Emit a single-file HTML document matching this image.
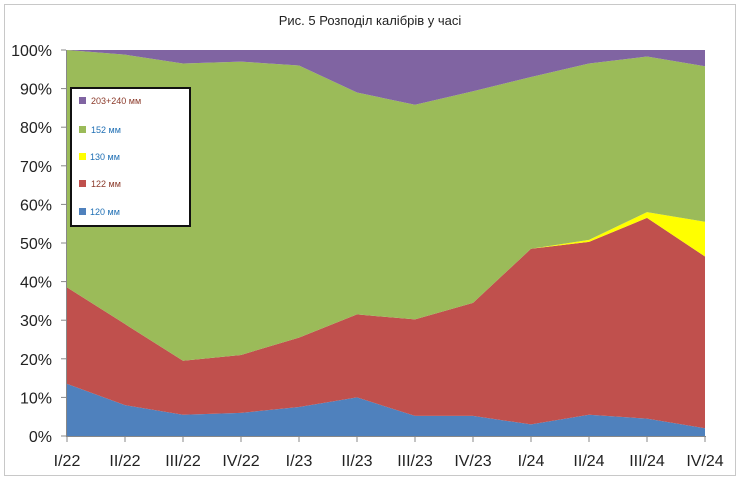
<!DOCTYPE html>
<html><head><meta charset="utf-8"><style>
body{margin:0;background:#fff;width:740px;height:480px;overflow:hidden}
svg{font-family:"Liberation Sans",sans-serif}
</style></head><body>
<svg id="s" width="740" height="480" xmlns="http://www.w3.org/2000/svg">
<rect x="4.5" y="4.5" width="731" height="471" fill="#fff" stroke="#c8c8c8"/>
<text x="370" y="25" font-size="13" text-anchor="middle" fill="#222">Рис. 5 Розподіл калібрів у часі</text>
<g id="areas"></g>
<g id="axes" stroke="#888" stroke-width="1"></g>
<g id="lbl" font-size="16" fill="#222"></g>
<g font-size="9">
<rect x="71" y="88" width="119" height="138" fill="#fff" stroke="#111" stroke-width="2"/>
<rect x="79" y="97" width="7" height="7" fill="#8064a2"/><text x="91" y="104" fill="#8b3a2a">203+240 мм</text>
<rect x="79" y="126" width="7" height="7" fill="#9bbb59"/><text x="91" y="133" fill="#1f6fb4">152 мм</text>
<rect x="79" y="153" width="7" height="7" fill="#ffff00"/><text x="90" y="160" fill="#1f6fb4">130 мм</text>
<rect x="79" y="180" width="7" height="7" fill="#c0504d"/><text x="91" y="187" fill="#8b3a2a">122 мм</text>
<rect x="79" y="208" width="7" height="7" fill="#4f81bd"/><text x="90" y="215" fill="#1f6fb4">120 мм</text>
</g>
</svg>
<script>
const X=i=>67+i*58,Y=p=>436-p*3.86;
const blue=[13.5,8,5.5,6,7.5,10,5.2,5.2,3,5.5,4.5,2];
const red=[38.5,29,19.5,21,25.5,31.5,30.2,34.5,48.5,50.3,56.5,46.5];
const yel=[38.5,29,19.5,21,25.5,31.5,30.2,34.5,48.5,50.8,58,55.5];
const grn=[100,98.8,96.5,97,96,89,85.8,89.3,93,96.5,98.3,95.8];
const pur=Array(12).fill(100);
const zero=Array(12).fill(0);
const layers=[[zero,blue,'#4f81bd'],[blue,red,'#c0504d'],[red,yel,'#ffff00'],[yel,grn,'#9bbb59'],[grn,pur,'#8064a2']];
let h='';
for(const [lo,hi,c] of layers){
 let pts=hi.map((v,i)=>X(i)+','+Y(v));
 for(let i=11;i>=0;i--)pts.push(X(i)+','+Y(lo[i]));
 h+=`<polygon points="${pts.join(' ')}" fill="${c}"/>`;
}
document.getElementById('areas').innerHTML=h;
let a=`<line x1="66.5" y1="50" x2="66.5" y2="436"/><line x1="66" y1="436.5" x2="706" y2="436.5"/>`;
let l='';
for(let k=0;k<=10;k++){const y=Y(k*10);a+=`<line x1="61" y1="${y}" x2="66" y2="${y}"/>`;l+=`<text x="52" y="${y+6}" text-anchor="end">${k*10}%</text>`;}
const labs=['I/22','II/22','III/22','IV/22','I/23','II/23','III/23','IV/23','I/24','II/24','III/24','IV/24'];
labs.forEach((t,i)=>{a+=`<line x1="${X(i)}" y1="436" x2="${X(i)}" y2="442"/>`;l+=`<text x="${X(i)}" y="466" text-anchor="middle">${t}</text>`;});
document.getElementById('axes').innerHTML=a;
document.getElementById('lbl').innerHTML=l;
</script>
</body></html>
